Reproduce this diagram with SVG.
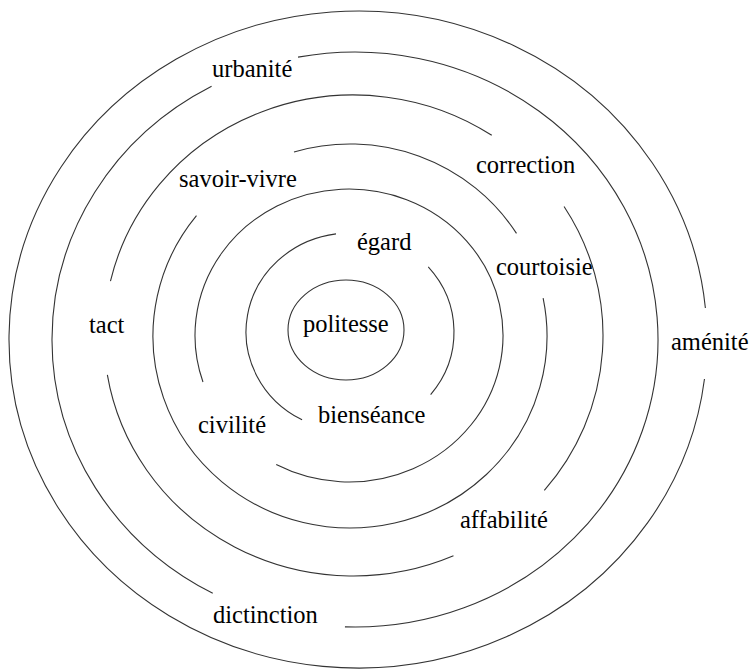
<svg xmlns="http://www.w3.org/2000/svg" width="750" height="670" viewBox="0 0 750 670">
<style>
.ring{fill:none;stroke:#333;stroke-width:1.1}
.lbl{font-size:24.5px;fill:#000}
</style>
<rect width="750" height="670" fill="#fff"/>
<g id="rings">
<g id="ring7"><path class="ring" d="M 704.47 378.97 A 349 328.5 0 1 1 705.39 308.01"/></g>
<g id="ring6">
<path class="ring" d="M 212.75 593.35 A 303 287.5 0 0 1 211.58 86.24"/>
<path class="ring" d="M 298.01 57.13 A 303 287.5 0 1 1 344.95 626.84"/>
</g>
<g id="ring5">
<path class="ring" d="M 453.48 555.85 A 249.5 240.5 0 0 1 107.37 374.90"/>
<path class="ring" d="M 110.46 281.11 A 249.5 240.5 0 0 1 491.74 135.29"/>
<path class="ring" d="M 564.06 206.48 A 249.5 240.5 0 0 1 544.32 490.45"/>
</g>
<g id="ring4">
<path class="ring" d="M 293.99 151.92 A 197 192 0 0 1 516.49 233.37"/>
<path class="ring" d="M 543.13 298.15 A 197 192 0 1 1 196.48 215.67"/>
</g>
<g id="ring3"><path class="ring" d="M 202.97 382.01 A 154 146.5 0 1 1 276.23 464.61"/></g>
<g id="ring2">
<path class="ring" d="M 428.25 266.79 A 104 99 0 0 1 430.63 394.53"/>
<path class="ring" d="M 302.07 419.86 A 104 99 0 0 1 335.99 233.90"/>
</g>
<g id="ring1"><ellipse class="ring" cx="346" cy="330" rx="58" ry="50"/></g>
</g>
<g id="labels" font-family="Liberation Serif, Tinos, Times New Roman, DejaVu Serif, serif">
<g id="politesse"><text class="lbl" x="303" y="332">politesse</text></g>
<g id="egard"><text class="lbl" x="357" y="250">égard</text></g>
<g id="bienseance"><text class="lbl" x="318" y="423">bienséance</text></g>
<g id="civilite"><text class="lbl" x="198" y="433">civilité</text></g>
<g id="courtoisie"><text class="lbl" x="496" y="275">courtoisie</text></g>
<g id="savoir-vivre"><text class="lbl" x="179" y="187">savoir-vivre</text></g>
<g id="correction"><text class="lbl" x="476" y="173">correction</text></g>
<g id="tact"><text class="lbl" x="89" y="333">tact</text></g>
<g id="affabilite"><text class="lbl" x="460" y="528">affabilité</text></g>
<g id="urbanite"><text class="lbl" x="212" y="77">urbanité</text></g>
<g id="dictinction"><text class="lbl" x="213" y="623">dictinction</text></g>
<g id="amenite"><text class="lbl" x="671" y="350">aménité</text></g>
</g>
</svg>
